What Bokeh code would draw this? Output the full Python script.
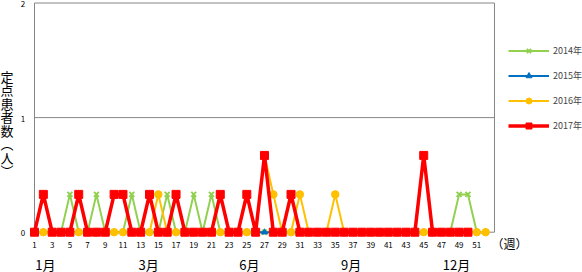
from bokeh.plotting import figure
from bokeh.models import Range1d, Legend, LegendItem, ColumnDataSource
from bokeh.core.properties import value
from bokeh.embed import file_html
from bokeh.resources import INLINE

# ---------------- data ----------------
weeks_52 = list(range(1, 53))
weeks_50 = list(range(1, 51))

y2014 = [0, 0, 0, 0, 0.33, 0, 0, 0.33, 0, 0,
         0, 0.33, 0, 0, 0, 0.33, 0, 0, 0.33, 0,
         0.33, 0, 0, 0, 0, 0, 0, 0, 0, 0,
         0, 0, 0, 0, 0, 0, 0, 0, 0, 0,
         0, 0, 0, 0, 0, 0, 0, 0, 0.33, 0.33,
         0, 0]
y2015 = [0] * 52
y2016 = [0, 0, 0, 0, 0, 0, 0, 0, 0, 0,
         0, 0, 0, 0, 0.33, 0, 0, 0, 0, 0,
         0, 0, 0, 0, 0, 0, 0.67, 0.33, 0, 0,
         0.33, 0, 0, 0, 0.33, 0, 0, 0, 0, 0,
         0, 0, 0, 0, 0, 0, 0, 0, 0, 0,
         0, 0]
y2017 = [0, 0.33, 0, 0, 0, 0.33, 0, 0, 0, 0.33,
         0.33, 0, 0, 0.33, 0, 0, 0.33, 0, 0, 0,
         0, 0.33, 0, 0, 0.33, 0, 0.67, 0, 0, 0.33,
         0, 0, 0, 0, 0, 0, 0, 0, 0, 0,
         0, 0, 0, 0, 0.67, 0, 0, 0, 0, 0]

series_names = ["2014年", "2015年", "2016年", "2017年"]
x_tick_weeks = list(range(1, 52, 2))
x_tick_labels = [str(w) for w in x_tick_weeks]
y_ticks = [0, 1, 2]
y_tick_labels = ["0", "1", "2"]
month_labels = ["1月", "3月", "6月", "9月", "12月"]
month_weeks = [2.24, 13.9, 25.3, 36.8, 48.7]
x_first, x_last = 1, 53
y_title_chars = list("定点患者数︵人︶")
unit_label = "（週）"

# ---------------- figure (frame = whole canvas) ----------------
W, H = 582, 272
PX_X = 8.846   # pixels per week
PX_Y = 114.6   # pixels per unit
X0_PX, Y0_PX = 34, 231.7  # pixel position of week 1 / value 0
x_start = x_first - X0_PX / PX_X
x_end = x_start + W / PX_X
y_start = -(H - Y0_PX) / PX_Y
y_end = y_start + H / PX_Y

p = figure(width=W, height=H, output_backend="svg", toolbar_location=None,
           x_range=Range1d(x_start, x_end), y_range=Range1d(y_start, y_end),
           min_border=0)
p.axis.visible = False
p.grid.visible = False
p.outline_line_color = None
p.background_fill_color = "white"
p.border_fill_color = "white"

FONT = value("Noto Sans CJK JP")
AX = "#868686"

# frame / gridlines
p.segment(x0=[x_first] * 3, y0=y_ticks, x1=[x_last] * 3, y1=y_ticks,
          line_color=AX, line_width=1)
p.segment(x0=[x_first, x_last], y0=[0, 0], x1=[x_first, x_last], y1=[2, 2],
          line_color=AX, line_width=1)

# tick labels
p.text(x=x_tick_weeks, y=[-12.5 / PX_Y] * len(x_tick_weeks), text=x_tick_labels,
       text_font=FONT, text_font_size="8px", text_align="center",
       text_baseline="middle", text_color="#000000")
p.text(x=[x_first - 11.5 / PX_X] * 3, y=[t - 1.0 / PX_Y for t in y_ticks],
       text=y_tick_labels, text_font=FONT, text_font_size="8px",
       text_align="center", text_baseline="middle", text_color="#000000")

# series
styles = [
    dict(color="#92D050", lw=2, marker="x", size=7, data=(weeks_52, y2014)),
    dict(color="#0070C0", lw=2, marker="triangle", size=6, data=(weeks_52, y2015)),
    dict(color="#FFC000", lw=2, marker="circle", size=7.5, data=(weeks_52, y2016)),
    dict(color="#FF0000", lw=3.5, marker="square", size=8, data=(weeks_50, y2017)),
]
items = []
for name, st in zip(series_names, styles):
    xs, ys = st["data"]
    src = ColumnDataSource(dict(x=xs, y=ys))
    r1 = p.line("x", "y", source=src, line_color=st["color"], line_width=st["lw"])
    r2 = p.scatter("x", "y", source=src, marker=st["marker"], size=st["size"],
                   fill_color=st["color"], line_color=st["color"],
                   line_width=2 if st["marker"] == "x" else 1)
    items.append(LegendItem(label=name, renderers=[r1, r2]))

legend = Legend(items=items, location=(508, 139), margin=0, padding=0,
                spacing=10, glyph_width=41, glyph_height=15, label_height=15,
                label_standoff=4, label_text_font="Noto Sans CJK JP",
                label_text_font_size="9px",
                border_line_color=None, background_fill_alpha=0)
p.add_layout(legend, "center")

# y axis title (vertical, upright characters, one per line)
n_ch = len(y_title_chars)
title_top_px, pitch_px = 75.5, 13.5
p.text(x=[x_first - 27.5 / PX_X] * n_ch,
       y=[(Y0_PX - (title_top_px + i * pitch_px)) / PX_Y for i in range(n_ch)],
       text=y_title_chars, text_font=FONT, text_font_size="13px",
       text_align="center", text_baseline="middle", text_color="#000000")

# month labels
p.text(x=month_weeks, y=[-(264 - Y0_PX) / PX_Y] * len(month_weeks), text=month_labels,
       text_font=FONT, text_font_size="13px", text_align="center",
       text_baseline="middle", text_color="#000000")

# unit label
p.text(x=[x_last - 3 / PX_X], y=[-(243 - Y0_PX) / PX_Y], text=[unit_label],
       text_font=FONT, text_font_size="12px", text_align="left",
       text_baseline="middle", text_color="#000000")

open("out.html", "w").write(file_html(p, INLINE))
